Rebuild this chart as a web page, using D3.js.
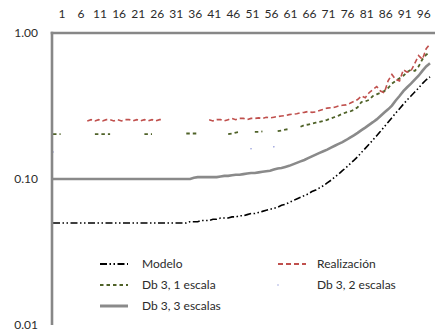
<!DOCTYPE html>
<html>
<head>
<meta charset="utf-8">
<script src="https://cdn.jsdelivr.net/npm/d3@7"></script>
<style>
  html, body { margin: 0; padding: 0; background: #fff; }
  svg text { font-family: Lato, "Open Sans", sans-serif; font-size: 12px; fill: #2b2b2b; }
</style>
</head>
<body>
<svg id="chart" width="435" height="333"></svg>
<script>
// Periods 1..100 and the labelled ones along the top axis
const categories = d3.range(1, 101);
const xTickLabels = [1, 6, 11, 16, 21, 26, 31, 36, 41, 46, 51, 56, 61, 66, 71, 76, 81, 86, 91, 96];
const yTickValues = [1, 0.1, 0.01];

// Modelo
const modelo = [
  0.050,0.050,0.050,0.050,0.050,0.050,0.050,0.050,0.050,0.050,
  0.050,0.050,0.050,0.050,0.050,0.050,0.050,0.050,0.050,0.050,
  0.050,0.050,0.050,0.050,0.050,0.050,0.050,0.050,0.050,0.050,
  0.050,0.050,0.050,0.050,0.050,0.050,0.051,0.051,0.051,0.052,
  0.052,0.052,0.053,0.053,0.054,0.054,0.054,0.055,0.055,0.056,
  0.056,0.057,0.058,0.058,0.059,0.060,0.061,0.062,0.063,0.064,
  0.066,0.067,0.069,0.071,0.073,0.075,0.077,0.079,0.082,0.084,
  0.087,0.090,0.094,0.098,0.103,0.108,0.114,0.120,0.127,0.134,
  0.142,0.152,0.162,0.173,0.185,0.198,0.212,0.228,0.245,0.263,
  0.283,0.303,0.325,0.348,0.370,0.394,0.420,0.450,0.478,0.500
];

// Realización (gaps where no value was recorded)
const realizacion = [
  null,null,null,null,null,null,null,null,null,0.250,
  0.255,0.250,0.255,0.250,0.255,0.255,0.250,0.255,0.250,0.255,
  0.255,0.250,0.255,0.250,0.255,0.250,0.255,0.250,0.255,0.255,
  null,null,null,null,null,null,null,null,null,null,
  null,0.255,0.250,0.255,0.255,0.250,0.255,0.260,0.255,0.260,
  0.260,0.255,0.260,0.260,0.262,0.260,0.265,0.262,0.265,0.268,
  0.270,0.272,0.276,0.278,0.280,0.284,0.286,0.290,0.286,0.288,
  0.295,0.300,0.306,0.308,0.310,0.316,0.320,0.322,0.330,0.340,
  0.350,0.370,0.360,0.390,0.410,0.430,0.400,0.390,0.470,0.520,
  0.480,0.470,0.560,0.540,0.550,0.620,0.700,0.660,0.780,0.840
];

// Db 3, 1 escala
const db31 = [
  0.203,0.203,0.203,null,null,null,null,null,null,null,
  null,0.203,0.203,0.203,0.203,0.203,null,null,null,null,
  null,null,null,null,0.203,0.203,0.203,null,null,null,
  null,null,null,null,null,0.205,0.205,0.205,0.205,null,
  null,null,null,null,null,null,0.203,0.205,0.208,0.210,
  null,null,null,0.210,0.210,0.212,null,null,null,0.213,
  0.215,0.218,0.220,null,null,0.228,0.234,0.236,0.240,0.243,
  0.246,0.250,0.254,0.260,0.266,0.272,0.280,0.286,0.290,0.297,
  0.310,0.337,0.340,0.348,0.370,0.380,0.390,0.400,0.420,0.450,
  0.470,0.490,0.510,0.540,0.560,0.550,0.590,0.660,0.710,0.740
];

// Db 3, 2 escalas (only isolated values)
const db32 = [
  0.153,null,null,null,null,null,null,null,null,null,
  null,null,null,null,null,null,null,null,null,null,
  null,null,null,null,null,null,null,null,null,null,
  null,null,null,null,null,null,null,null,null,null,
  null,null,null,null,null,null,null,null,null,null,
  null,null,0.161,null,null,null,null,null,0.166,null,
  null,null,null,null,null,null,null,null,null,null,
  null,null,null,null,null,null,null,null,null,null,
  null,null,null,null,null,null,null,null,null,null,
  null,null,null,null,null,null,null,null,null,null
];

// Db 3, 3 escalas
const db33 = [
  0.100,0.100,0.100,0.100,0.100,0.100,0.100,0.100,0.100,0.100,
  0.100,0.100,0.100,0.100,0.100,0.100,0.100,0.100,0.100,0.100,
  0.100,0.100,0.100,0.100,0.100,0.100,0.100,0.100,0.100,0.100,
  0.100,0.100,0.100,0.100,0.100,0.100,0.100,0.102,0.103,0.103,
  0.103,0.103,0.103,0.103,0.104,0.105,0.105,0.106,0.107,0.107,
  0.108,0.109,0.110,0.110,0.111,0.112,0.113,0.114,0.116,0.118,
  0.119,0.121,0.123,0.126,0.129,0.132,0.135,0.139,0.143,0.147,
  0.151,0.155,0.159,0.164,0.169,0.174,0.179,0.185,0.192,0.199,
  0.207,0.216,0.225,0.235,0.245,0.256,0.270,0.285,0.300,0.318,
  0.345,0.370,0.400,0.425,0.450,0.480,0.510,0.550,0.590,0.620
];

const svg = d3.select("#chart");
const plotLeft = 52, plotRight = 435, plotTop = 33, plotBottom = 325;
const x = d3.scalePoint().domain(categories).range([53, 430]);
const y = d3.scaleLog().domain([0.01, 1]).range([plotBottom, plotTop]);

const series = [
  { name: "Modelo", values: modelo, color: "#000000", width: 1.6, dash: "7,2.5,1.5,2.5,1.5,2.5" },
  { name: "Realización", values: realizacion, color: "#c0504d", width: 1.6, dash: "5,3" },
  { name: "Db 3, 1 escala", values: db31, color: "#4f6228", width: 1.8, dash: "3.5,3" },
  { name: "Db 3, 3 escalas", values: db33, color: "#8a8a8a", width: 2.6, dash: null }
];

svg.append("clipPath").attr("id", "plot")
  .append("rect").attr("x", plotLeft).attr("y", plotTop - 2)
  .attr("width", plotRight - plotLeft).attr("height", plotBottom - plotTop + 2);

const plot = svg.append("g").attr("clip-path", "url(#plot)");
const line = d3.line()
  .defined(d => d.v != null)
  .x(d => x(d.c))
  .y(d => y(d.v));

// gray first so the dashed series sit on top
[series[3], series[0], series[2], series[1]].forEach(s => {
  const pts = categories.map((c, i) => ({ c, v: s.values[i] }));
  plot.append("path")
    .datum(pts)
    .attr("fill", "none")
    .attr("stroke", s.color)
    .attr("stroke-width", s.width)
    .attr("stroke-dasharray", s.dash)
    .attr("d", line);
});

// isolated points of Db 3, 2 escalas
plot.selectAll("circle.db32")
  .data(categories.map((c, i) => ({ c, v: db32[i] })).filter(d => d.v != null))
  .join("circle")
  .attr("class", "db32")
  .attr("cx", d => x(d.c))
  .attr("cy", d => y(d.v))
  .attr("r", 0.8)
  .attr("fill", "#8f97d8");

// axes
const yAxis = svg.append("g")
  .attr("transform", `translate(${plotLeft},0)`)
  .call(d3.axisLeft(y).tickValues(yTickValues).tickFormat(d3.format(".2f")).tickSize(0).tickPadding(14));
yAxis.select(".domain").remove();
yAxis.selectAll("text").style("font-size", "12px");

const xAxis = svg.append("g")
  .attr("transform", `translate(0,${plotTop})`)
  .call(d3.axisTop(x).tickValues(xTickLabels).tickSize(0).tickPadding(15));
xAxis.select(".domain").remove();
xAxis.selectAll("text").attr("dx", 8.5).style("font-size", "12px");

svg.append("line")
  .attr("x1", plotLeft).attr("x2", plotLeft).attr("y1", plotTop - 1.3).attr("y2", plotBottom)
  .attr("stroke", "#878787").attr("stroke-width", 2.6);
svg.append("line")
  .attr("x1", plotLeft - 1.3).attr("x2", plotRight).attr("y1", plotTop).attr("y2", plotTop)
  .attr("stroke", "#878787").attr("stroke-width", 2.6);

// legend
const legendItems = [
  { s: series[0], col: 0, row: 0 },
  { s: series[2], col: 0, row: 1 },
  { s: series[3], col: 0, row: 2 },
  { s: series[1], col: 1, row: 0 },
  { s: { name: "Db 3, 2 escalas", color: "#8f97d8", dot: true }, col: 1, row: 1 }
];
const legend = svg.append("g");
legendItems.forEach(it => {
  const lx = it.col === 0 ? 100 : 278;
  const ly = 264 + it.row * 21;
  const g = legend.append("g").attr("transform", `translate(${lx},${ly})`);
  if (it.s.dot) {
    g.append("circle").attr("cx", 0).attr("cy", 0).attr("r", 0.7).attr("fill", it.s.color);
  } else {
    g.append("line").attr("x1", 0).attr("x2", 28).attr("y1", 0).attr("y2", 0)
      .attr("stroke", it.s.color)
      .attr("stroke-width", it.s.width + 0.4)
      .attr("stroke-dasharray", it.s.dash);
  }
  g.append("text").attr("x", it.col === 0 ? 42 : 39).attr("y", 0).attr("dy", "0.35em").text(it.s.name);
});
</script>
</body>
</html>
